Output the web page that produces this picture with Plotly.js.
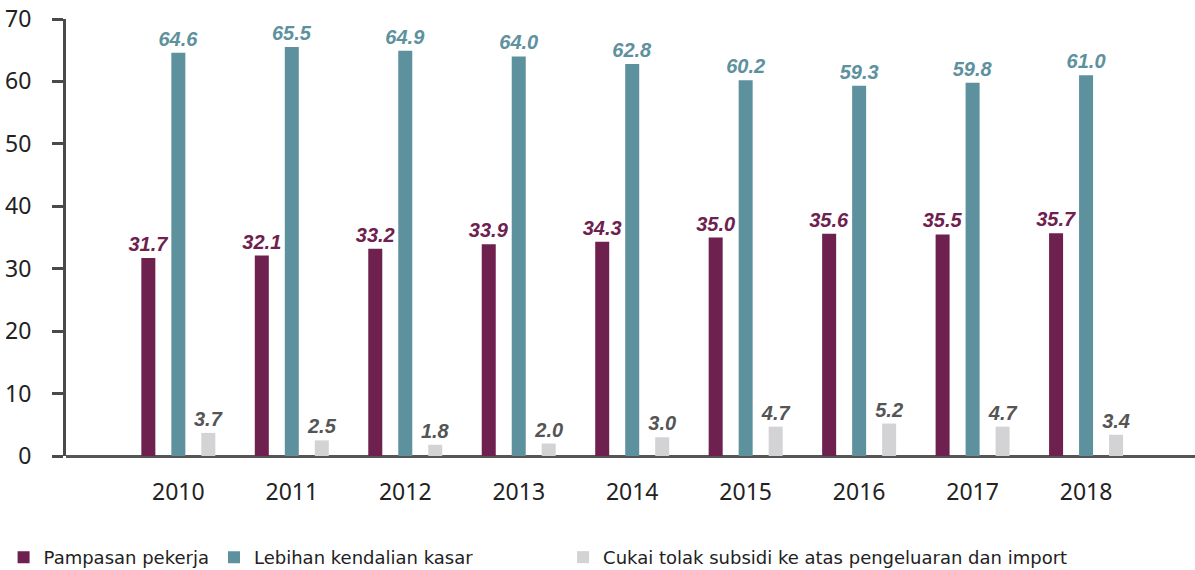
<!DOCTYPE html>
<html>
<head>
<meta charset="utf-8">
<script src="https://cdn.plot.ly/plotly-3.0.1.min.js"></script>
<style>
html,body{margin:0;padding:0;background:#fff;}
#chart{width:1195px;height:570px;}
</style>
</head>
<body>
<div id="chart"></div>
<script>
const years = ['2010','2011','2012','2013','2014','2015','2016','2017','2018'];
const pampasan = [31.7, 32.1, 33.2, 33.9, 34.3, 35.0, 35.6, 35.5, 35.7];
const lebihan = [64.6, 65.5, 64.9, 64.0, 62.8, 60.2, 59.3, 59.8, 61.0];
const cukai = [3.7, 2.5, 1.8, 2.0, 3.0, 4.7, 5.2, 4.7, 3.4];
const seriesNames = ['Pampasan pekerja', 'Lebihan kendalian kasar', 'Cukai tolak subsidi ke atas pengeluaran dan import'];
const yTicks = [0, 10, 20, 30, 40, 50, 60, 70];

const colors = ['#6E204E', '#5D919E', '#D3D3D5'];
const labelColors = ['#6E204E', '#5D919E', '#555555'];
const legendRefs = ['legend', 'legend', 'legend2'];
const labelFont = (c) => ({family: 'Liberation Sans, Arial, sans-serif', size: 20, color: c, weight: 'bold', style: 'italic'});

const allSeries = [pampasan, lebihan, cukai];
const traces = allSeries.map((vals, i) => ({
  type: 'bar',
  name: seriesNames[i],
  legend: legendRefs[i],
  x: years,
  y: vals,
  marker: {color: colors[i], line: {width: 0}},
  text: vals.map(v => v.toFixed(1)),
  textposition: 'outside',
  constraintext: 'none',
  textfont: labelFont(labelColors[i]),
  cliponaxis: false,
  hoverinfo: 'x+y+name'
}));

const legendBase = {
  orientation: 'h',
  xref: 'container',
  yref: 'container',
  y: 0.022,
  xanchor: 'left',
  yanchor: 'middle',
  font: {family: 'DejaVu Sans, sans-serif', size: 18, color: '#222222'},
  traceorder: 'normal',
  itemclick: false
};

const layout = {
  width: 1195,
  height: 570,
  margin: {l: 66, r: 0, t: 19, b: 114},
  paper_bgcolor: '#ffffff',
  plot_bgcolor: '#ffffff',
  barmode: 'group',
  bargap: 0.207,
  bargroupgap: 0.533,
  showlegend: true,
  legend: Object.assign({}, legendBase, {x: 0.003}),
  legend2: Object.assign({}, legendBase, {x: 0.4712}),
  xaxis: {
    type: 'category',
    range: [-0.99, 8.96],
    showgrid: false,
    zeroline: false,
    showline: false,
    ticks: '',
    ticklabelstandoff: 20,
    tickfont: {family: 'Noto Sans, sans-serif', size: 23, color: '#222222'}
  },
  yaxis: {
    range: [0, 70],
    tickvals: yTicks,
    ticktext: yTicks.map(String),
    showgrid: false,
    zeroline: true,
    zerolinecolor: '#555555',
    zerolinewidth: 3,
    showline: true,
    linecolor: '#4a4a4a',
    linewidth: 3,
    ticks: 'outside',
    ticklen: 11,
    tickwidth: 3,
    tickcolor: '#4a4a4a',
    ticklabelstandoff: 16,
    tickfont: {family: 'Noto Sans, sans-serif', size: 23, color: '#222222'}
  },
  font: {family: 'Noto Sans, sans-serif'}
};

Plotly.newPlot('chart', traces, layout, {displayModeBar: false, staticPlot: true});
</script>
</body>
</html>
